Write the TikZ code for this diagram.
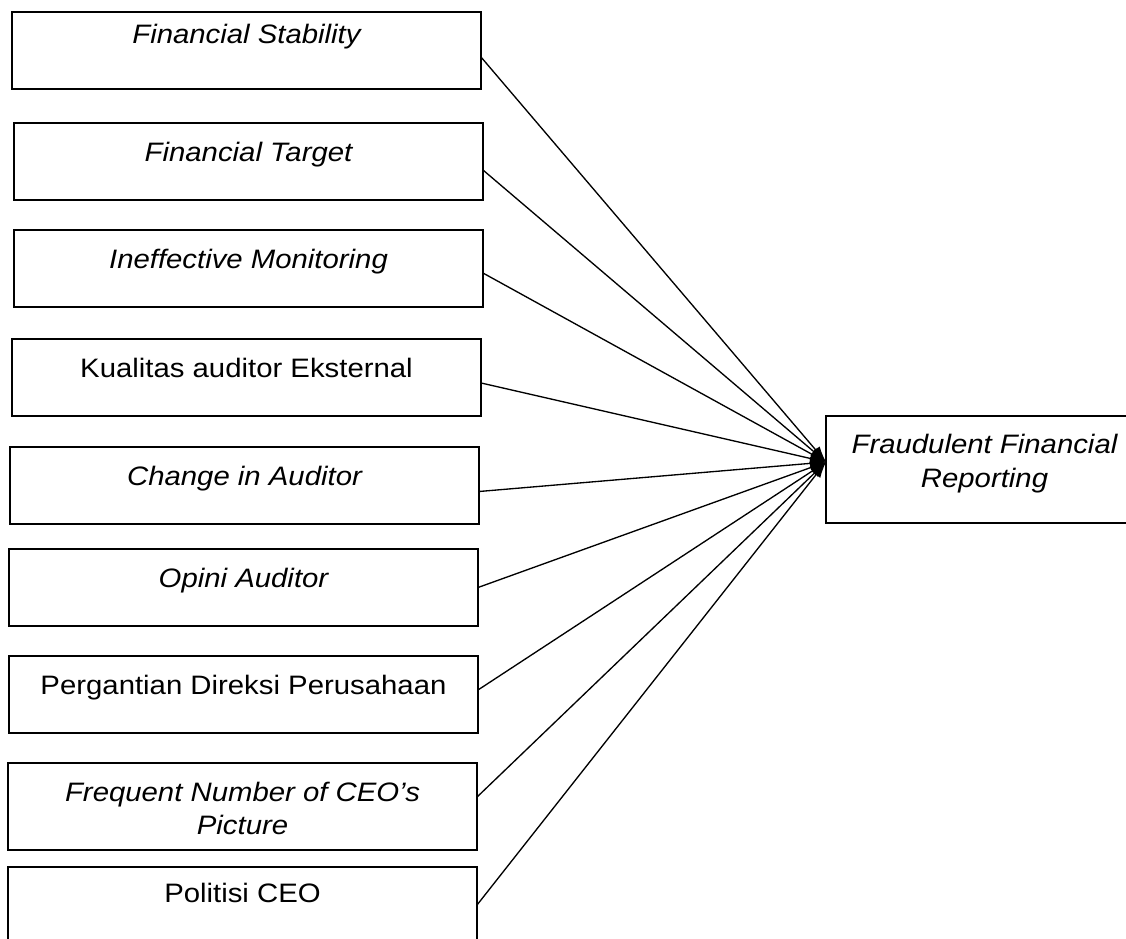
\documentclass[tikz,border=0pt]{standalone}
\usepackage{fontspec}
\setmainfont{Liberation Sans}[FakeStretch=1.1]
\usetikzlibrary{positioning,arrows.meta}

\begin{document}
\begin{tikzpicture}
		\tikzstyle{var}=[rectangle, draw=black, line width=1.3pt, outer sep=0pt, minimum width=351.75pt, inner xsep=0pt, inner ysep=14pt, text height=14.9pt, text depth=14.85pt, font=\fontsize{20}{24.75}\selectfont, anchor=north west]
		\tikzstyle{itvar}=[var, font=\fontsize{20}{24.75}\selectfont\itshape]
		\tikzstyle{twoline}=[itvar, align=center, inner ysep=5pt, text height=48.25pt, text depth=7pt]
		\tikzstyle{result}=[rectangle, draw=black, line width=1.3pt, outer sep=0pt, minimum width=237.75pt, inner xsep=0pt, inner ysep=14pt, text height=39.25pt, text depth=13pt, align=center, font=\fontsize{20}{25.5}\selectfont\itshape, anchor=north west]
		\tikzstyle{connect}=[-{Latex[length=12pt,width=8pt]}, line width=1pt]
		\useasboundingbox (0,0) rectangle (844.5pt,-703.5pt);
		\node[itvar, text height=10pt, text depth=19.75pt] (fs) at (9pt,-9pt) {Financial Stability};
			\node[itvar] (ft) [below=25.5pt of fs.south west, anchor=north west, xshift=1.5pt] {Financial Target};
				\node[itvar] (im) [below=22.5pt of ft.south west, anchor=north west] {Ineffective Monitoring};
					\node[var] (kae) [below=24pt of im.south west, anchor=north west, xshift=-1.5pt] {Kualitas auditor Eksternal};
						\node[itvar] (cia) [below=23.25pt of kae.south west, anchor=north west, xshift=-1.5pt] {Change in Auditor};
							\node[itvar] (oa) [below=18.75pt of cia.south west, anchor=north west, xshift=-0.75pt] {Opini Auditor};
								\node[var] (pdp) [below=22.5pt of oa.south west, anchor=north west] {Pergantian Direksi Perusahaan};
									\node[twoline] (fnc) [below=22.5pt of pdp.south west, anchor=north west, xshift=-0.75pt] {Frequent Number of CEO’s\\Picture};
										\node[var, text height=12.25pt, text depth=40pt] (pc) [below=12.75pt of fnc.south west, anchor=north west] {Politisi CEO};
		\node[result] (ffr) at (619.5pt,-312pt) {Fraudulent Financial\\Reporting};
		\coordinate (tip) at ([yshift=5.6pt]ffr.west);

		\path ([yshift=-4.9pt]fs.east) edge [connect] (tip)
			([yshift=-6.4pt]ft.east) edge [connect] (tip)
				([yshift=-3.4pt]im.east) edge [connect] (tip)
					([yshift=-4.1pt]kae.east) edge [connect] (tip)
						([yshift=-4.5pt]cia.east) edge [connect] (tip)
							(oa.east) edge [connect] (tip)
								([yshift=3.4pt]pdp.east) edge [connect] (tip)
									([yshift=7.1pt]fnc.east) edge [connect] (tip)
										([yshift=-28.5pt]pc.north east) edge [connect] (tip);
\end{tikzpicture}
\end{document}
